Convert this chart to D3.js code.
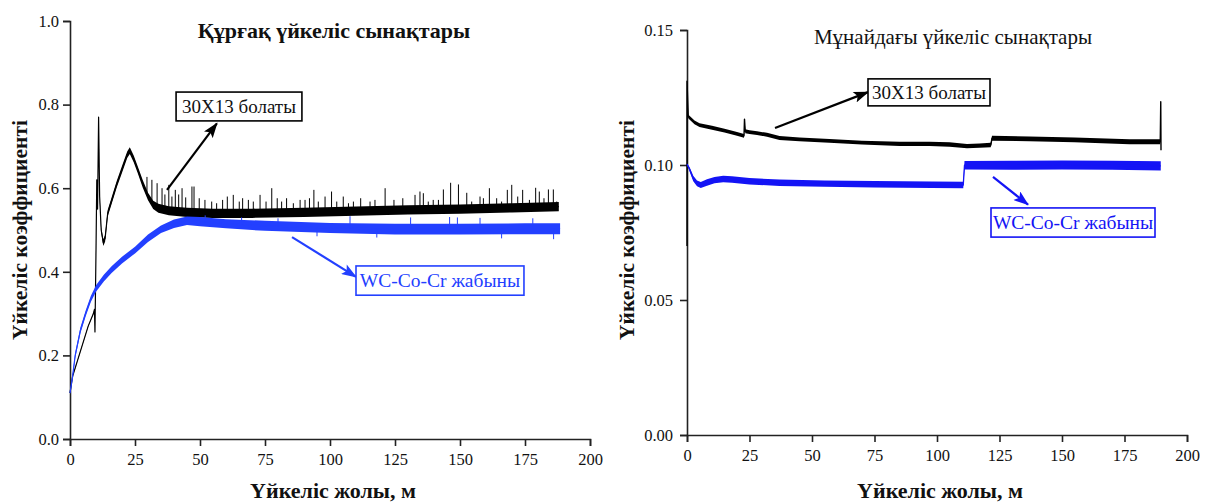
<!DOCTYPE html>
<html><head><meta charset="utf-8">
<script src="https://cdn.jsdelivr.net/npm/d3@7"></script>
<style>
body{margin:0;background:#fff}
svg{display:block}
svg text{font-family:'Liberation Serif','Times New Roman',Times,Tinos,'DejaVu Serif',serif !important;fill:#111}
</style></head><body>
<svg id="c" width="1208" height="503"></svg>
<script>
// ---------- DATA ----------
const xTicks = [0, 25, 50, 75, 100, 125, 150, 175, 200];
const dryYTicks = [0, 0.2, 0.4, 0.6, 0.8, 1.0];
const oilYTicks = [0, 0.05, 0.10, 0.15];

const titleDry = "Құрғақ үйкеліс сынақтары";
const titleOil = "Мұнайдағы үйкеліс сынақтары";
const xLabel = "Үйкеліс жолы, м";
const yLabel = "Үйкеліс коэффициенті";
const steelName = "30X13 болаты";
const coatName = "WC-Co-Cr жабыны";

// Dry test, 30X13 steel: distance (m), mean friction coefficient, noise half-width
const drySteelX  = [0, 1, 3, 5, 7, 9, 9.4, 9.6, 10.0, 10.3, 10.6, 11.0, 11.4, 12.0, 12.8, 13.5, 14.5, 16, 18, 20, 22, 23, 24.5, 26, 28, 30, 32, 34, 38, 45, 55, 70, 90, 110, 130, 150, 170, 188];
const drySteelY  = [0.11, 0.15, 0.19, 0.23, 0.27, 0.30, 0.31, 0.256, 0.45, 0.62, 0.55, 0.77, 0.58, 0.50, 0.47, 0.48, 0.54, 0.57, 0.61, 0.645, 0.68, 0.69, 0.67, 0.645, 0.61, 0.58, 0.56, 0.552, 0.546, 0.542, 0.54, 0.54, 0.542, 0.545, 0.548, 0.55, 0.553, 0.556];
const drySteelN  = [0.001, 0.001, 0.001, 0.001, 0.001, 0.001, 0.001, 0.001, 0.003, 0.004, 0.004, 0.004, 0.005, 0.006, 0.008, 0.008, 0.008, 0.008, 0.008, 0.008, 0.008, 0.008, 0.008, 0.008, 0.009, 0.009, 0.01, 0.011, 0.011, 0.011, 0.011, 0.011, 0.011, 0.011, 0.011, 0.011, 0.011, 0.011];
// Dry test, 30X13 steel: upward spikes (distance, peak value)
const drySpikeX = [29.6, 31.5, 33.5, 35.4, 36.5, 38, 39.2, 40.5, 41.8, 43.1, 44.5, 46.9, 47.7, 49.7, 51.9, 54.5, 56.4, 58.7, 60.5, 62.8, 65.1, 66.4, 68.6, 70.5, 73.1, 75.4, 77.6, 79.7, 81.4, 83.3, 85.9, 88.5, 90.4, 92.1, 93.8, 95.5, 98.1, 100.6, 102.6, 105.1, 107.1, 109.0, 111.8, 115.4, 117.3, 121.2, 124.6, 128.0, 132.7, 134.6, 135.9, 137.8, 139.7, 141.7, 143.6, 146.4, 149.4, 152.6, 154.5, 157.7, 159.0, 161.3, 164.1, 166.0, 168.2, 169.9, 172.2, 174.1, 176.7, 179.1, 180.5, 182.3, 184.0, 185.9, 187.2];
const drySpikeY = [0.627, 0.620, 0.612, 0.600, 0.585, 0.608, 0.580, 0.596, 0.585, 0.600, 0.578, 0.604, 0.604, 0.576, 0.572, 0.568, 0.564, 0.572, 0.580, 0.584, 0.568, 0.576, 0.572, 0.568, 0.584, 0.568, 0.600, 0.576, 0.568, 0.576, 0.564, 0.572, 0.572, 0.576, 0.596, 0.568, 0.580, 0.592, 0.568, 0.580, 0.564, 0.568, 0.576, 0.568, 0.572, 0.600, 0.572, 0.576, 0.584, 0.592, 0.588, 0.568, 0.572, 0.572, 0.597, 0.613, 0.609, 0.589, 0.568, 0.580, 0.576, 0.600, 0.576, 0.568, 0.596, 0.608, 0.580, 0.596, 0.572, 0.601, 0.592, 0.576, 0.597, 0.597, 0.568];

// Dry test, WC-Co-Cr coating
const dryCoatX = [0, 1, 2, 4, 6, 8, 10, 13, 16, 20, 25, 30, 35, 40, 45, 50, 60, 75, 100, 125, 150, 175, 188.5];
const dryCoatY = [0.11, 0.15, 0.20, 0.26, 0.30, 0.335, 0.36, 0.385, 0.405, 0.428, 0.452, 0.48, 0.502, 0.515, 0.522, 0.52, 0.515, 0.51, 0.505, 0.502, 0.502, 0.503, 0.503];
const dryCoatN = [0.004, 0.005, 0.006, 0.007, 0.007, 0.007, 0.008, 0.008, 0.008, 0.008, 0.008, 0.009, 0.009, 0.01, 0.01, 0.011, 0.011, 0.012, 0.012, 0.013, 0.013, 0.013, 0.013];
// Dry test, WC-Co-Cr coating: spikes (distance, extreme value)
const dryCoatSpikeX = [52, 66, 80, 95, 107.7, 118, 131, 146, 149, 157.7, 166, 178, 186];
const dryCoatSpikeY = [0.535, 0.530, 0.528, 0.485, 0.533, 0.482, 0.530, 0.531, 0.530, 0.529, 0.480, 0.528, 0.478];

// Oil test, 30X13 steel
const oilSteelX = [0, 0, 0.5, 1.2, 3, 5, 10, 15, 20, 22.8, 23, 23.3, 25, 28, 32, 37, 45, 57, 70, 85, 97, 105, 112, 117, 121.5, 122, 137, 155, 177, 189.3, 189.5, 189.6];
const oilSteelY = [0.070, 0.131, 0.118, 0.1174, 0.1158, 0.1148, 0.1138, 0.1127, 0.1115, 0.1108, 0.1170, 0.1125, 0.1122, 0.1118, 0.1112, 0.1100, 0.1095, 0.1089, 0.1083, 0.1078, 0.1078, 0.1076, 0.1070, 0.1072, 0.1074, 0.1099, 0.1097, 0.1093, 0.1086, 0.1086, 0.1234, 0.1055];
const oilSteelN = [0, 0, 0.0007, 0.0007, 0.0007, 0.0007, 0.0007, 0.0007, 0.0007, 0.0007, 0, 0.0007, 0.0007, 0.0007, 0.0007, 0.0007, 0.0007, 0.0007, 0.0007, 0.0008, 0.0008, 0.0008, 0.0008, 0.0008, 0.0008, 0.0009, 0.0009, 0.0009, 0.0009, 0.0009, 0, 0];

// Oil test, WC-Co-Cr coating
const oilCoatX = [0, 1, 2.5, 4, 5.5, 8, 11, 14.5, 18, 25, 37, 55, 75, 98, 110.5, 111, 130, 150, 170, 189.5];
const oilCoatY = [0.1003, 0.0985, 0.0950, 0.0932, 0.0926, 0.0935, 0.0944, 0.0948, 0.0946, 0.0940, 0.0934, 0.0931, 0.0929, 0.0927, 0.0926, 0.0999, 0.0999, 0.1000, 0.0999, 0.0997];
const oilCoatN = [0.0003, 0.0008, 0.0010, 0.0011, 0.0011, 0.0012, 0.0012, 0.0012, 0.0012, 0.0012, 0.0012, 0.0012, 0.0012, 0.0012, 0.0012, 0.0016, 0.0017, 0.0017, 0.0017, 0.0017];

// ---------- DRAW ----------
const FONT = "'Liberation Serif','Times New Roman',Times,Tinos,'DejaVu Serif',serif";
const svg = d3.select("#c");
const steelColor = "#000000";
const coatColorDry = "#2340ff";
const coatColorOil = "#1414f5";

const defs = svg.append("defs");
function marker(id, color) {
  defs.append("marker").attr("id", id).attr("viewBox", "0 0 14 10")
    .attr("refX", 13).attr("refY", 5).attr("markerWidth", 16).attr("markerHeight", 11)
    .attr("markerUnits", "userSpaceOnUse").attr("orient", "auto")
    .append("path").attr("d", "M0,0 L14,5 L0,10 L3,5 Z").attr("fill", color);
}
marker("arrK", "#000");
marker("arrBd", coatColorDry);
marker("arrBo", coatColorOil);

function zip(xs, ys, ns) { return xs.map((x, i) => ({x, y: ys[i], n: ns ? ns[i] : 0})); }

function panel(o) {
  const g = svg.append("g");
  const x = d3.scaleLinear().domain([0, 200]).range([o.left, o.right]);
  const y = d3.scaleLinear().domain(o.yDomain).range([o.bottom, o.top]);

  const ax = g.append("g").attr("transform", `translate(0,${o.bottom})`)
    .call(d3.axisBottom(x).tickValues(xTicks).tickSize(7).tickPadding(7).tickFormat(d3.format("d")));
  const ay = g.append("g").attr("transform", `translate(${o.left},0)`)
    .call(d3.axisLeft(y).tickValues(o.yTicks).tickSize(7).tickPadding(o.yPad).tickFormat(d3.format(o.yFmt)));
  [ax, ay].forEach(a => {
    a.attr("font-family", FONT).attr("font-size", 16.5);
    a.select(".domain").attr("stroke", "#222").attr("stroke-width", 1.6);
    a.selectAll(".tick line").attr("stroke", "#222").attr("stroke-width", 1.6);
    a.selectAll(".tick text").attr("fill", "#111").style("font-family", FONT);
  });

  o.series.forEach(s => {
    const data = zip(s.x, s.y, s.n);
    const area = d3.area().x(d => x(d.x)).y0(d => y(d.y - d.n)).y1(d => y(d.y + d.n));
    g.append("path").attr("d", area(data)).attr("fill", s.color).attr("stroke", "none");
    const line = d3.line().x(d => x(d.x)).y(d => y(d.y));
    g.append("path").attr("d", line(data)).attr("fill", "none").attr("stroke", s.color)
      .attr("stroke-width", s.lw).attr("stroke-linejoin", "round");
    if (s.spikeX) {
      const interp = (px) => {
        const i = d3.bisectLeft(s.x, px);
        if (i <= 0) return s.y[0];
        if (i >= s.x.length) return s.y[s.y.length - 1];
        const t = (px - s.x[i - 1]) / (s.x[i] - s.x[i - 1]);
        return s.y[i - 1] + t * (s.y[i] - s.y[i - 1]);
      };
      g.append("g").selectAll("line").data(s.spikeX.map((sx, i) => ({x: sx, top: s.spikeY[i]})))
        .join("line")
        .attr("x1", d => x(d.x)).attr("x2", d => x(d.x))
        .attr("y1", d => y(interp(d.x))).attr("y2", d => y(d.top))
        .attr("stroke", s.color).attr("stroke-width", 1);
    }
  });

  o.notes.forEach(n => {
    g.append("line")
      .attr("x1", x(n.from[0])).attr("y1", y(n.from[1]))
      .attr("x2", x(n.to[0])).attr("y2", y(n.to[1]))
      .attr("stroke", n.color).attr("stroke-width", 2.2)
      .attr("marker-end", `url(#${n.marker})`);
    const bx0 = x(n.box[0]), bx1 = x(n.box[1]), by0 = y(n.box[2]), by1 = y(n.box[3]);
    g.append("rect").attr("x", bx0).attr("y", by0).attr("width", bx1 - bx0).attr("height", by1 - by0)
      .attr("fill", "#fff").attr("stroke", n.color).attr("stroke-width", 1.6);
    g.append("text").attr("x", (bx0 + bx1) / 2).attr("y", (by0 + by1) / 2 + 6.5)
      .attr("text-anchor", "middle").style("font-family", FONT)
      .attr("font-size", n.fs).style("fill", n.textColor).text(n.label);
  });

  g.append("text").attr("x", o.titleX).attr("y", o.titleY).attr("text-anchor", "middle").style("font-family", FONT)
    .attr("font-size", o.titleSize).attr("font-weight", o.titleBold ? "bold" : "normal").text(o.title);
  g.append("text").attr("x", (o.left + o.right) / 2 + 3).attr("y", 498).attr("text-anchor", "middle").style("font-family", FONT)
    .attr("font-size", 22).attr("font-weight", "bold").text(xLabel);
  g.append("text").attr("transform", `translate(${o.yLabelX + 7},230) rotate(-90)`).style("font-family", FONT)
    .attr("text-anchor", "middle")
    .attr("font-size", 21.5).attr("font-weight", "bold").text(yLabel);
}

panel({
  left: 70, right: 590, top: 21, bottom: 439,
  yDomain: [0, 1], yTicks: dryYTicks, yFmt: ".1f", yPad: 4,
  title: titleDry, titleBold: true, titleSize: 22, titleX: 334, titleY: 38, yLabelX: 20,
  series: [
    {x: drySteelX, y: drySteelY, n: drySteelN, color: steelColor, lw: 1.2, spikeX: drySpikeX, spikeY: drySpikeY},
    {x: dryCoatX, y: dryCoatY, n: dryCoatN, color: coatColorDry, lw: 1.2, spikeX: dryCoatSpikeX, spikeY: dryCoatSpikeY}
  ],
  notes: [
    {from: [37.3, 0.596], to: [56.5, 0.755], box: [40.8, 89.2, 0.830, 0.761], color: "#000", textColor: "#111", marker: "arrK", label: steelName, fs: 19},
    {from: [85.4, 0.483], to: [110, 0.388], box: [110, 174.6, 0.414, 0.344], color: coatColorDry, textColor: coatColorDry, marker: "arrBd", label: coatName, fs: 19.5}
  ]
});

panel({
  left: 687, right: 1187, top: 30, bottom: 435,
  yDomain: [0, 0.15], yTicks: oilYTicks, yFmt: ".2f", yPad: 7,
  title: titleOil, titleBold: false, titleSize: 21, titleX: 953, titleY: 44, yLabelX: 627,
  series: [
    {x: oilSteelX, y: oilSteelY, n: oilSteelN, color: steelColor, lw: 1.4},
    {x: oilCoatX, y: oilCoatY, n: oilCoatN, color: coatColorOil, lw: 1.3}
  ],
  notes: [
    {from: [35.2, 0.1137], to: [72.4, 0.127], box: [72.4, 121.2, 0.1319, 0.1219], color: "#000", textColor: "#111", marker: "arrK", label: steelName, fs: 19},
    {from: [122.4, 0.0956], to: [136.4, 0.0853], box: [121.6, 187.2, 0.0841, 0.0733], color: coatColorOil, textColor: coatColorOil, marker: "arrBo", label: coatName, fs: 19.5}
  ]
});
</script>
</body></html>
